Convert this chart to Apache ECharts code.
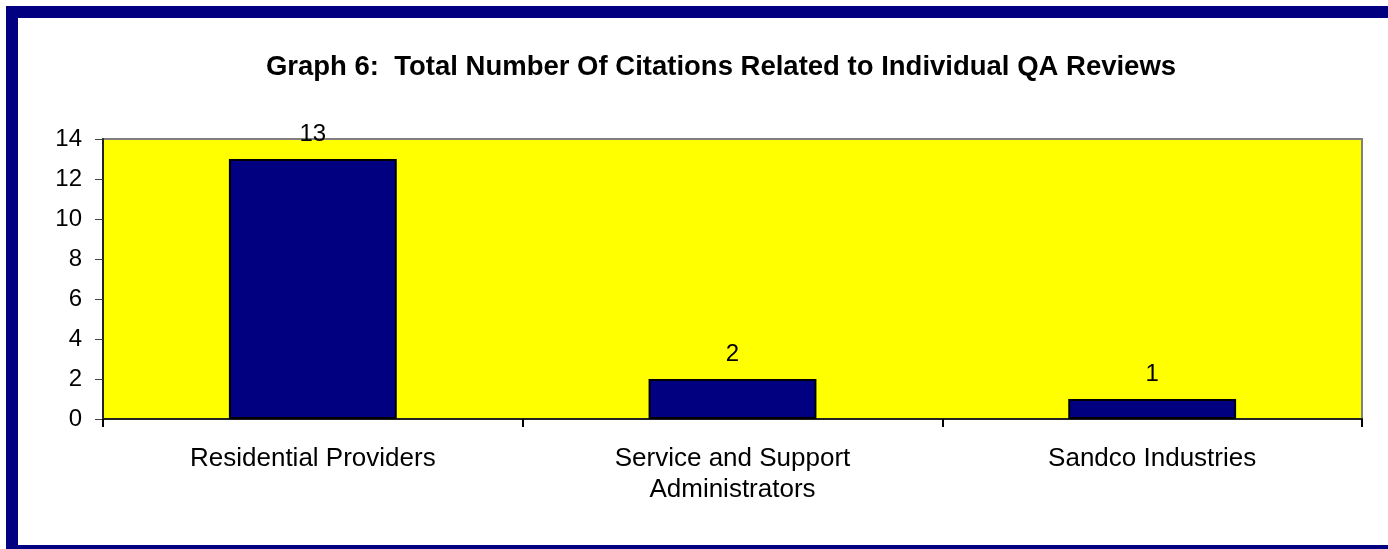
<!DOCTYPE html>
<html>
<head>
<meta charset="utf-8">
<script src="https://cdn.jsdelivr.net/npm/echarts@6/dist/echarts.min.js"></script>
<style>
  html, body { margin: 0; padding: 0; background: #fff; overflow: hidden; }
  #frame { position: absolute; left: 6px; top: 6px; width: 1400px; height: 551px;
           border: 12px solid #000080; box-sizing: border-box; }
  #chart { position: absolute; left: 0; top: 0; width: 1388px; height: 549px; }
</style>
</head>
<body>
<div id="frame"></div>
<div id="chart"></div>
<script>
// Citation counts by provider group
const categories = ['Residential Providers', 'Service and Support\nAdministrators', 'Sandco Industries'];
const citations = [13, 2, 1];
const yTicks = { min: 0, max: 14, interval: 2 };
const titleText = 'Graph 6:  Total Number Of Citations Related to Individual QA Reviews';

const chart = echarts.init(document.getElementById('chart'), null, { renderer: 'canvas' });
const font = 'Liberation Sans, Arial, sans-serif';

chart.setOption({
  animation: false,
  backgroundColor: 'transparent',
  title: {
    text: titleText,
    left: 716,
    top: 48,
    textAlign: 'center',
    textStyle: { fontFamily: font, fontSize: 27.5, fontWeight: 'bold', color: '#000' }
  },
  grid: {
    left: 103, right: 26, top: 139, bottom: 130,
    show: true, backgroundColor: '#FFFF00', borderColor: '#808080', borderWidth: 2
  },
  xAxis: {
    type: 'category',
    data: categories,
    axisLine: { lineStyle: { color: '#222', width: 2 } },
    axisTick: { show: true, inside: false, length: 8, lineStyle: { color: '#000', width: 2 } },
    axisLabel: { fontFamily: font, fontSize: 26, color: '#000', margin: 24, lineHeight: 31 }
  },
  yAxis: {
    type: 'value',
    min: yTicks.min, max: yTicks.max, interval: yTicks.interval,
    splitLine: { show: false },
    axisLine: { show: true, lineStyle: { color: '#222', width: 2 } },
    axisTick: { show: true, length: 8, lineStyle: { color: '#444', width: 1 } },
    axisLabel: { fontFamily: font, fontSize: 24, color: '#000', margin: 21 }
  },
  series: [{
    type: 'bar',
    data: citations,
    barWidth: '40%',
    itemStyle: { color: '#000080', borderColor: '#000', borderWidth: 2 },
    label: {
      show: true, position: 'top', distance: 13,
      fontFamily: font, fontSize: 24, color: '#000'
    }
  }]
});
</script>
</body>
</html>
